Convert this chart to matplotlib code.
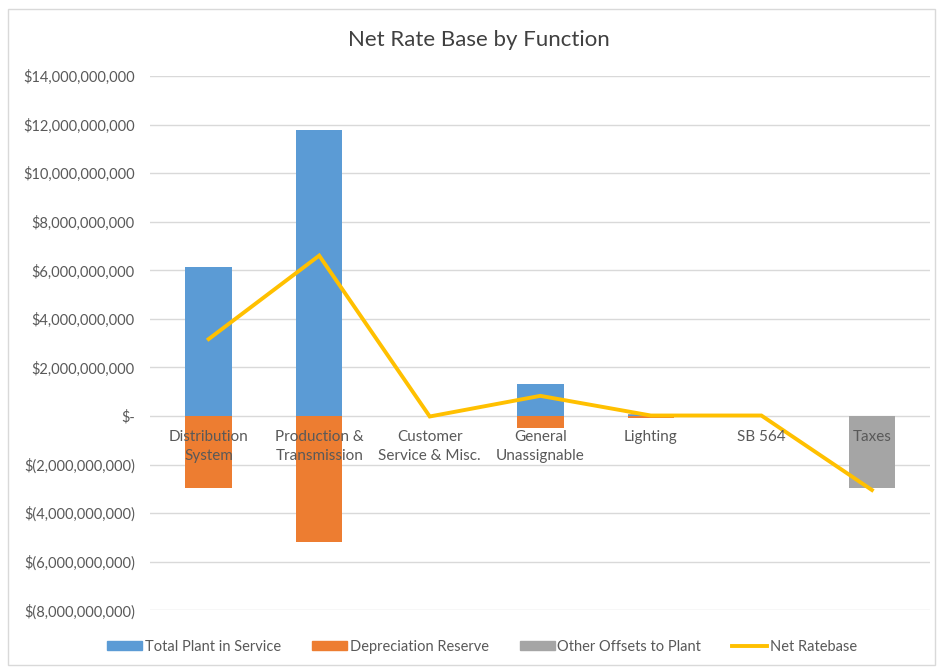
import matplotlib
matplotlib.use('Agg')
import matplotlib.pyplot as plt
from matplotlib.ticker import FuncFormatter
from matplotlib.patches import Rectangle
from matplotlib.lines import Line2D
import numpy as np

plt.rcParams['font.family'] = ['Lato', 'DejaVu Sans']

categories = ['Distribution\nSystem', 'Production &\nTransmission', 'Customer\nService & Misc.',
              'General\nUnassignable', 'Lighting', 'SB 564', 'Taxes']
total_plant = [6.13e9, 11.80e9, 0.0, 1.32e9, 0.06e9, 0.0, 0.0]
depreciation = [-2.96e9, -5.19e9, 0.0, -0.49e9, -0.08e9, 0.0, 0.0]
other_offsets = [0.0, 0.0, 0.0, 0.0, 0.04e9, 0.0, -2.98e9]
net_ratebase = [3.17e9, 6.61e9, -0.02e9, 0.83e9, 0.02e9, 0.02e9, -3.05e9]

c_blue = '#5B9BD5'
c_orange = '#ED7D31'
c_gray = '#A5A5A5'
c_gold = '#FFC000'
txt = '#595959'

fig = plt.figure(figsize=(9.38, 6.69), dpi=100)
fig.patches.append(Rectangle((0.009, 0.006), 0.988, 0.981, transform=fig.transFigure,
                             fill=False, edgecolor='#D9D9D9', linewidth=1))
ax = fig.add_axes([0.160, 0.088, 0.832, 0.798])

x = np.arange(len(categories))
w = 0.42

# stack positives upward and negatives downward, like Excel does
pos_base = np.zeros(len(x))
neg_base = np.zeros(len(x))
for vals, col in [(total_plant, c_blue), (depreciation, c_orange), (other_offsets, c_gray)]:
    v = np.array(vals)
    bottoms = np.where(v >= 0, pos_base, neg_base)
    ax.bar(x, v, w, bottom=bottoms, color=col, zorder=2)
    pos_base += np.where(v >= 0, v, 0)
    neg_base += np.where(v < 0, v, 0)

ax.plot(x, net_ratebase, color=c_gold, linewidth=2.8, zorder=3, solid_joinstyle='miter')

ax.set_xlim(-0.53, len(x) - 0.47)
ax.set_ylim(-8e9, 14e9)
ax.set_yticks(np.arange(-8e9, 14.1e9, 2e9))


def money(v, pos):
    if abs(v) < 1:
        return '$-'
    if v < 0:
        return '$({:,.0f})'.format(-v)
    return '${:,.0f}'.format(v)


ax.yaxis.set_major_formatter(FuncFormatter(money))
ax.tick_params(axis='y', length=0, labelsize=10.5, labelcolor=txt, pad=11)
ax.set_xticks([])
ax.grid(axis='y', color='#D9D9D9', linewidth=1, zorder=0)
for s in ax.spines.values():
    s.set_visible(False)

# category labels sit just under the zero line
for xi, lab in zip(x, categories):
    ax.annotate(lab, (xi, 0), xytext=(0, -10), textcoords='offset points',
                ha='center', va='top', fontsize=11, color=txt, zorder=4,
                linespacing=1.45)

fig.text(0.51, 0.94, 'Net Rate Base by Function', ha='center', va='center',
         fontsize=16, color='#404040')

handles = [Rectangle((0, 0), 1, 1, color=c_blue), Rectangle((0, 0), 1, 1, color=c_orange),
           Rectangle((0, 0), 1, 1, color=c_gray), Line2D([], [], color=c_gold, linewidth=2.8)]
labels = ['Total Plant in Service', 'Depreciation Reserve', 'Other Offsets to Plant', 'Net Ratebase']
fig.legend(handles, labels, loc='center', bbox_to_anchor=(0.514, 0.033), ncol=4,
           frameon=False, fontsize=10.5, labelcolor=txt, columnspacing=2.1,
           handlelength=2.4, handleheight=0.6, handletextpad=0.2)

fig.savefig('out.png', dpi=100)
